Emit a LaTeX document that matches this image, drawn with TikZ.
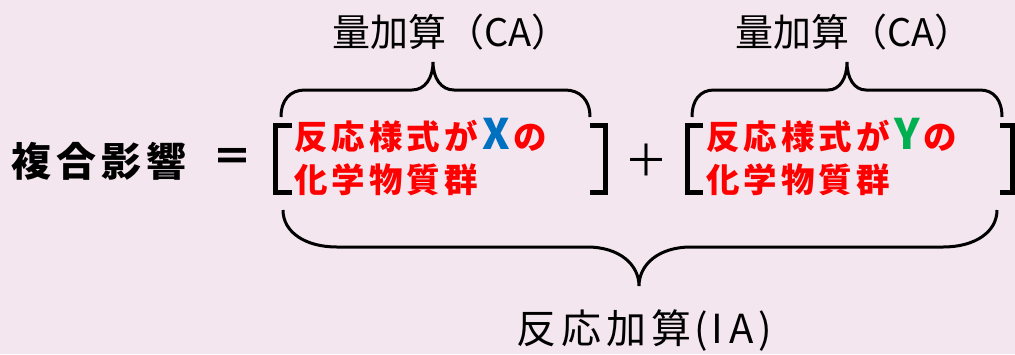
\documentclass[tikz,border=0pt]{standalone}
\usepackage{fontspec}
\newfontfamily\jp{Noto Sans CJK JP}
\definecolor{bg}{HTML}{F3E6EE}
\definecolor{txtred}{HTML}{FF0000}
\definecolor{xblue}{HTML}{0070C0}
\definecolor{ygreen}{HTML}{00B050}
\newcommand{\rk}{\kern4pt}
\newcommand{\bigletter}[2]{\textcolor{#1}{\fontsize{42}{40}\selectfont #2}}
\begin{document}
\begin{tikzpicture}[x=1pt,y=-1pt,
  brk/.style={line width=5pt, black},
  brace/.style={line width=3pt, black},
  lbl/.style={font=\jp\fontsize{38}{40}\selectfont, inner sep=0pt},
  redtxt/.style={font=\jp\bfseries\fontsize{33.5}{40}\selectfont, text=txtred, inner sep=0pt, anchor=west}]
\fill[bg] (0,0) rectangle (1015,354);
\useasboundingbox (0,0) rectangle (1015,354);
% title and operators
\node[inner sep=0pt, font=\jp\bfseries\fontsize{40}{44}\selectfont] (title) at (99,161) {複\kern5pt合\kern5pt影\kern5pt響};
\node[inner sep=0pt, font=\jp\bfseries\fontsize{40}{44}\selectfont] (eq) at (232,160) {＝};
\node[inner sep=0pt, font=\jp\fontsize{44}{44}\selectfont] (plus) at (646,160) {＋};
% brackets
\draw[brk] (292,125.5) -- (275.5,125.5) -- (275.5,192.5) -- (292,192.5);
\draw[brk] (590,125.5) -- (605.5,125.5) -- (605.5,192.5) -- (590,192.5);
\draw[brk] (703,125.5) -- (687.5,125.5) -- (687.5,192.5) -- (703,192.5);
\draw[brk] (1000,125.5) -- (1012.5,125.5) -- (1012.5,192.5) -- (1000,192.5);
% red texts
\node[redtxt] (a1) at (294,135) {反\rk 応\rk 様\rk 式\rk が\kern5pt\bigletter{xblue}{X}\kern3pt の};
\node[redtxt] (a2) at (294,180) {化\rk 学\rk 物\rk 質\rk 群};
\node[redtxt] (b1) at (706,135) {反\rk 応\rk 様\rk 式\rk が\kern5pt\bigletter{ygreen}{Y}\kern3pt の};
\node[redtxt] (b2) at (706,180) {化\rk 学\rk 物\rk 質\rk 群};
% top braces
\draw[brace] (281,117) .. controls (281,100) and (290,90) .. (305,90) -- (412,90)
  .. controls (425,90) and (433,78) .. (433,62)
  .. controls (433,78) and (441,90) .. (454,90) -- (565,90)
  .. controls (580,90) and (590,100) .. (590,117);
\draw[brace] (692,117) .. controls (692,100) and (700,90) .. (714,90) -- (828,90)
  .. controls (840,90) and (847,78) .. (847,62)
  .. controls (847,78) and (854,90) .. (866,90) -- (980,90)
  .. controls (994,90) and (1002,100) .. (1002,117);
% bottom brace
\draw[brace] (283,210) .. controls (283,232) and (305,247) .. (337,247) -- (587,247)
  .. controls (620,247) and (639,265) .. (639,286)
  .. controls (639,265) and (658,247) .. (691,247) -- (943,247)
  .. controls (975,247) and (997,232) .. (997,210);
% labels
\node[lbl] (ca1) at (451,32) {量加算（CA）};
\node[lbl] (ca2) at (854,32) {量加算（CA）};
\node[lbl, font=\jp\fontsize{40}{40}\selectfont] (ia) at (644,331) {反\kern5pt応\kern5pt加\kern5pt算\kern3pt(\kern4pt I\kern6pt A\kern4pt)};
\end{tikzpicture}
\end{document}
